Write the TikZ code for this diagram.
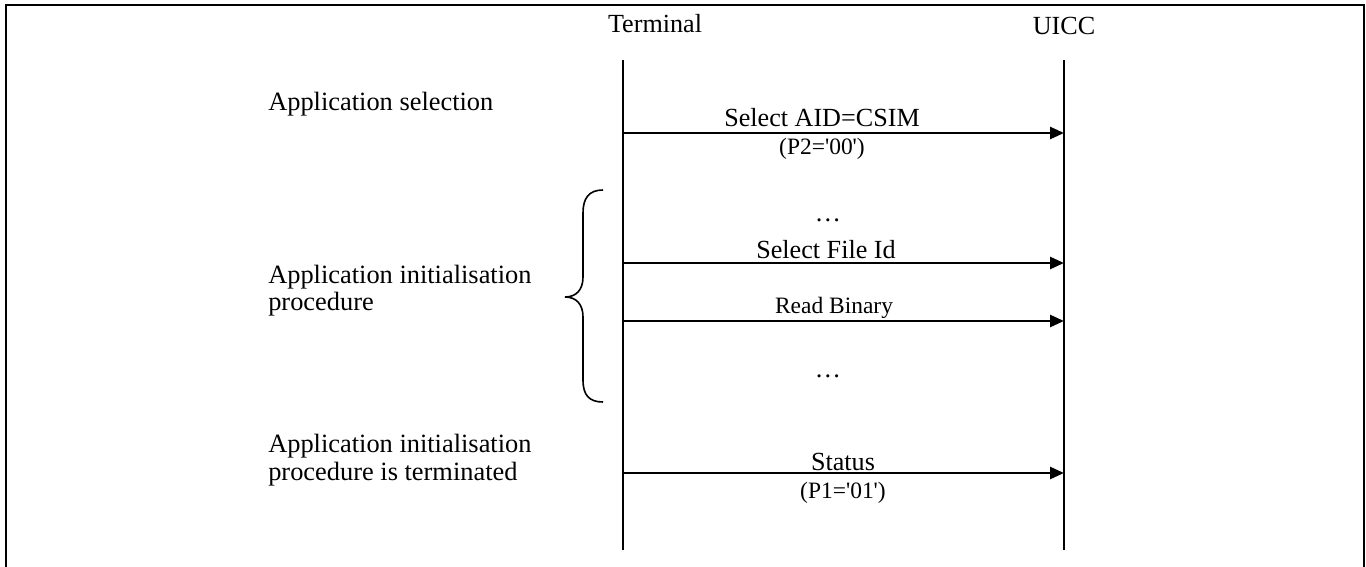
\documentclass[tikz,border=0pt]{standalone}
\usepackage{fontspec}
\setmainfont{Liberation Serif}
\usetikzlibrary{arrows.meta}
\begin{document}
\begin{tikzpicture}[x=0.75pt,y=-0.75pt,
  msg/.style={line width=2pt,-{Triangle[length=10.5pt,width=9pt]}},
  life/.style={line width=1.2pt},
  frame/.style={line width=2pt},
  bracestyle/.style={line width=1.2pt},
  lbl/.style={inner sep=0pt,anchor=base,font=\fontsize{19.6}{22}\selectfont},
  small/.style={inner sep=0pt,anchor=base,font=\fontsize{17.6}{20}\selectfont},
  side/.style={inner sep=0pt,anchor=base west,font=\fontsize{19.8}{22}\selectfont}]
\useasboundingbox (0,0) rectangle (1366,567);
% frame
\draw[frame] (6,570) -- (6,5) -- (1364,5) -- (1364,570);
% headers
\node[lbl] (term) at (655,33) {Terminal};
\node[lbl] (uicc) at (1064,35) {UICC};
% lifelines
\coordinate (tTop) at (623,60);
\coordinate (tBot) at (623,550);
\coordinate (uTop) at (1064,60);
\coordinate (uBot) at (1064,550);
\draw[life] (tTop) -- (tBot);
\draw[life] (uTop) -- (uBot);
% message end points
\coordinate (m1s) at (623,133); \coordinate (m1e) at (1064,133);
\coordinate (m2s) at (623,263); \coordinate (m2e) at (1064,263);
\coordinate (m3s) at (623,321); \coordinate (m3e) at (1064,321);
\coordinate (m4s) at (623,473); \coordinate (m4e) at (1064,473);
\draw[msg] (m1s) -- (m1e);
\draw[msg] (m2s) -- (m2e);
\draw[msg] (m3s) -- (m3e);
\draw[msg] (m4s) -- (m4e);
% message labels
\node[lbl] (l1) at (822,126) {Select AID=CSIM};
\node[small] (l1b) at (822,154) {(P2=\textquotesingle00\textquotesingle)};
\node[lbl] (d1) at (828,221) {…};
\node[lbl] (l2) at (826,258) {Select File Id};
\node[small] (l3) at (834,313) {Read Binary};
\node[lbl] (d2) at (828,377) {…};
\node[lbl] (l4) at (843,470) {Status};
\node[small] (l4b) at (843,498) {(P1=\textquotesingle01\textquotesingle)};
% side labels
\node[side] (s1) at (268,110) {Application selection};
\node[side] (s2a) at (268,283) {Application initialisation};
\node[side] (s2b) at (268,310) {procedure};
\node[side] (s3a) at (268,452) {Application initialisation};
\node[side] (s3b) at (268,480) {procedure is terminated};
% brace
\draw[bracestyle] (603,190) .. controls (589,190) and (583,198) .. (583,213)
  -- (583,277) .. controls (583,290) and (576,297) .. (565,297)
  .. controls (576,297) and (583,304) .. (583,317)
  -- (583,380) .. controls (583,395) and (589,402) .. (603,402);
\end{tikzpicture}
\end{document}
